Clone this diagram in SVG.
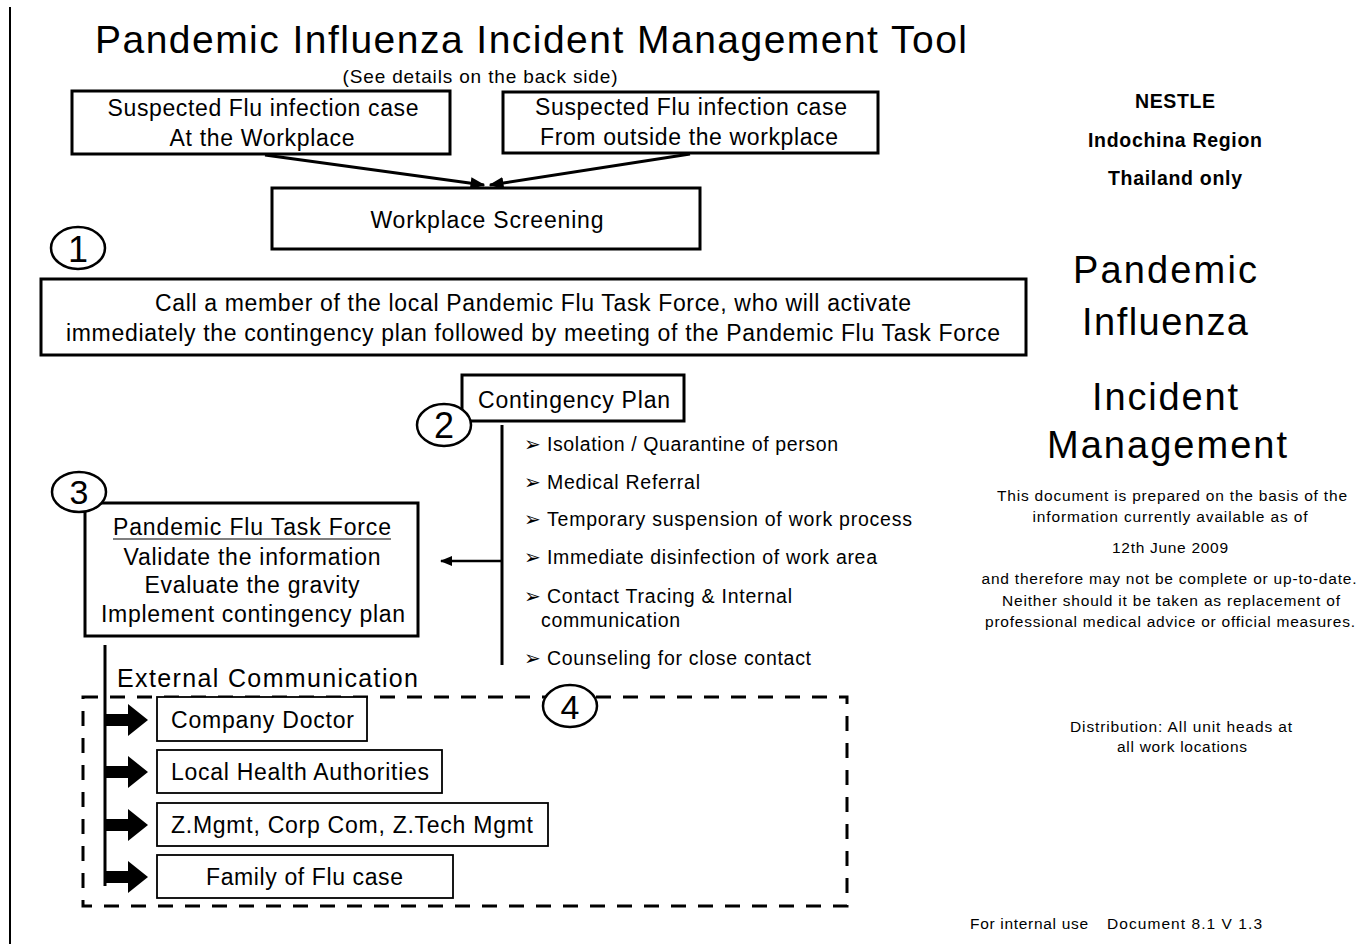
<svg xmlns="http://www.w3.org/2000/svg" width="1360" height="944" viewBox="0 0 1360 944">
<defs>
<style>
text{font-family:"Liberation Sans",Arial,sans-serif;fill:#000}
.c{text-anchor:middle}
.box{fill:#fff;stroke:#000;stroke-width:3}
.thin{fill:#fff;stroke:#000;stroke-width:1.8}
.num{fill:#fff;stroke:#000;stroke-width:2.5}
.t23{font-size:23px}
.b19{font-size:19.5px}
.r14{font-size:15.5px}
.big{font-size:38px}
.bold{font-size:19.5px;font-weight:bold}
.ln{stroke:#000;stroke-width:3;fill:none}
.bul{font-family:"DejaVu Sans",sans-serif;font-size:20px}
</style>
<marker id="ah" viewBox="0 0 10 10" refX="9" refY="5" markerWidth="5" markerHeight="5" orient="auto" markerUnits="strokeWidth">
<path d="M0,1 L10,5 L0,9 Z" fill="#000"/>
</marker>
<marker id="ah2" viewBox="0 0 10 10" refX="9" refY="5" markerWidth="5" markerHeight="5" orient="auto" markerUnits="strokeWidth">
<path d="M0,1 L10,5 L0,9 Z" fill="#000"/>
</marker>
<polygon id="blk" points="105,-6 128,-6 128,-16 148,0 128,16 128,6 105,6" fill="#000"/>
</defs>
<rect width="1360" height="944" fill="#fff"/>
<line x1="10" y1="7" x2="10" y2="944" stroke="#000" stroke-width="2"/>

<g id="title">
<text class="c" x="531" y="53" font-size="39" textLength="872">Pandemic Influenza Incident Management Tool</text>
<text class="c" x="480" y="83" font-size="19" textLength="275">(See details on the back side)</text>
</g>

<g id="connectors">
<line class="ln" x1="265" y1="155" x2="484" y2="185" marker-end="url(#ah)"/>
<line class="ln" x1="690" y1="154" x2="490" y2="185" marker-end="url(#ah)"/>
<line x1="502" y1="425" x2="502" y2="665" stroke="#000" stroke-width="3"/>
<line x1="502" y1="561" x2="441" y2="561" stroke="#000" stroke-width="2.5" marker-end="url(#ah2)"/>
<line x1="105" y1="645" x2="105" y2="886" stroke="#000" stroke-width="3"/>
<use href="#blk" transform="translate(0,720)"/>
<use href="#blk" transform="translate(0,772)"/>
<use href="#blk" transform="translate(0,825)"/>
<use href="#blk" transform="translate(0,877)"/>
</g>

<g id="node-workplace-case">
<rect class="box" x="72" y="91" width="378" height="63"/>
<text class="c t23" x="263" y="116" textLength="311">Suspected Flu infection case</text>
<text class="c t23" x="262" y="146" textLength="185">At the Workplace</text>
</g>

<g id="node-outside-case">
<rect class="box" x="503" y="92" width="375" height="61"/>
<text class="c t23" x="691" y="115" textLength="312">Suspected Flu infection case</text>
<text class="c t23" x="689" y="145" textLength="298">From outside the workplace</text>
</g>

<g id="node-screening">
<rect class="box" x="272" y="188" width="428" height="61"/>
<text class="c t23" x="487" y="228" textLength="233">Workplace Screening</text>
</g>

<g id="node-call">
<ellipse class="num" cx="78" cy="248" rx="27" ry="21"/>
<text class="c" x="78" y="262" font-size="36">1</text>
<rect class="box" x="41" y="279" width="985" height="76"/>
<text class="c t23" x="533" y="311" textLength="756">Call a member of the local Pandemic Flu Task Force, who will activate</text>
<text class="c t23" x="533" y="341" textLength="934">immediately the contingency plan followed by meeting of the Pandemic Flu Task Force</text>
</g>

<g id="node-contingency">
<rect class="box" x="462" y="375" width="222" height="46"/>
<text class="c t23" x="574" y="408" textLength="192">Contingency Plan</text>
<ellipse class="num" cx="444" cy="425" rx="27" ry="21"/>
<text class="c" x="444" y="438" font-size="36">2</text>
</g>

<g id="node-actions">
<text class="bul" x="524" y="451">➢</text>
<text class="bul" x="524" y="489">➢</text>
<text class="bul" x="524" y="526">➢</text>
<text class="bul" x="524" y="564">➢</text>
<text class="bul" x="524" y="603">➢</text>
<text class="bul" x="524" y="665">➢</text>
<text class="b19" x="547" y="451" textLength="291">Isolation / Quarantine of person</text>
<text class="b19" x="547" y="489" textLength="153">Medical Referral</text>
<text class="b19" x="547" y="526" textLength="365">Temporary suspension of work process</text>
<text class="b19" x="547" y="564" textLength="330">Immediate disinfection of work area</text>
<text class="b19" x="547" y="603" textLength="245">Contact Tracing &amp; Internal</text>
<text class="b19" x="541" y="627" textLength="139">communication</text>
<text class="b19" x="547" y="665" textLength="264">Counseling for close contact</text>
</g>

<g id="node-taskforce">
<rect class="box" x="85" y="503" width="333" height="133"/>
<text class="c t23" x="252" y="535" textLength="278">Pandemic Flu Task Force</text>
<line x1="113" y1="539" x2="391" y2="539" stroke="#000" stroke-width="1.2"/>
<text class="c t23" x="252" y="565" textLength="257">Validate the information</text>
<text class="c t23" x="252" y="593" textLength="215">Evaluate the gravity</text>
<text class="c t23" x="253" y="622" textLength="304">Implement contingency plan</text>
<ellipse class="num" cx="79" cy="492" rx="27" ry="20"/>
<text class="c" x="79" y="504" font-size="34">3</text>
</g>

<g id="node-external">
<text x="117" y="687" font-size="25" textLength="301">External Communication</text>
<rect x="83" y="697" width="764" height="209" fill="none" stroke="#000" stroke-width="3" stroke-dasharray="15 12"/>
<ellipse class="num" cx="570" cy="706" rx="27" ry="21"/>
<text class="c" x="570" y="719" font-size="34">4</text>
</g>

<g id="node-doctor">
<rect class="thin" x="157" y="697" width="210" height="44"/>
<text x="171" y="728" class="t23" textLength="183">Company Doctor</text>
</g>
<g id="node-health">
<rect class="thin" x="157" y="750" width="285" height="43"/>
<text x="171" y="780" class="t23" textLength="258">Local Health Authorities</text>
</g>
<g id="node-mgmt">
<rect class="thin" x="157" y="803" width="391" height="43"/>
<text x="171" y="833" class="t23" textLength="362">Z.Mgmt, Corp Com, Z.Tech Mgmt</text>
</g>
<g id="node-family">
<rect class="thin" x="157" y="855" width="296" height="43"/>
<text x="206" y="885" class="t23" textLength="197">Family of Flu case</text>
</g>

<g id="sidebar">
<text class="c bold" x="1175" y="108" textLength="80">NESTLE</text>
<text class="c bold" x="1175" y="147" textLength="174">Indochina Region</text>
<text class="c bold" x="1175" y="185" textLength="134">Thailand only</text>
<text class="c big" x="1165" y="283" textLength="184">Pandemic</text>
<text class="c big" x="1165" y="335" textLength="166">Influenza</text>
<text class="c big" x="1165" y="410" textLength="146">Incident</text>
<text class="c big" x="1167" y="458" textLength="240">Management</text>
<text class="c r14" x="1172" y="501" textLength="350">This document is prepared on the basis of the</text>
<text class="c r14" x="1170" y="522" textLength="275">information currently available as of</text>
<text class="c r14" x="1170" y="553" textLength="116">12th June 2009</text>
<text class="c r14" x="1169" y="584" textLength="375">and therefore may not be complete or up-to-date.</text>
<text class="c r14" x="1171" y="606" textLength="338">Neither should it be taken as replacement of</text>
<text class="c r14" x="1170" y="627" textLength="370">professional medical advice or official measures.</text>
<text class="c r14" x="1181" y="732" textLength="222">Distribution: All unit heads at</text>
<text class="c r14" x="1182" y="752" textLength="130">all work locations</text>
<text class="r14" x="970" y="929" textLength="118">For internal use</text>
<text class="r14" x="1107" y="929" textLength="155">Document  8.1 V 1.3</text>
</g>
</svg>
